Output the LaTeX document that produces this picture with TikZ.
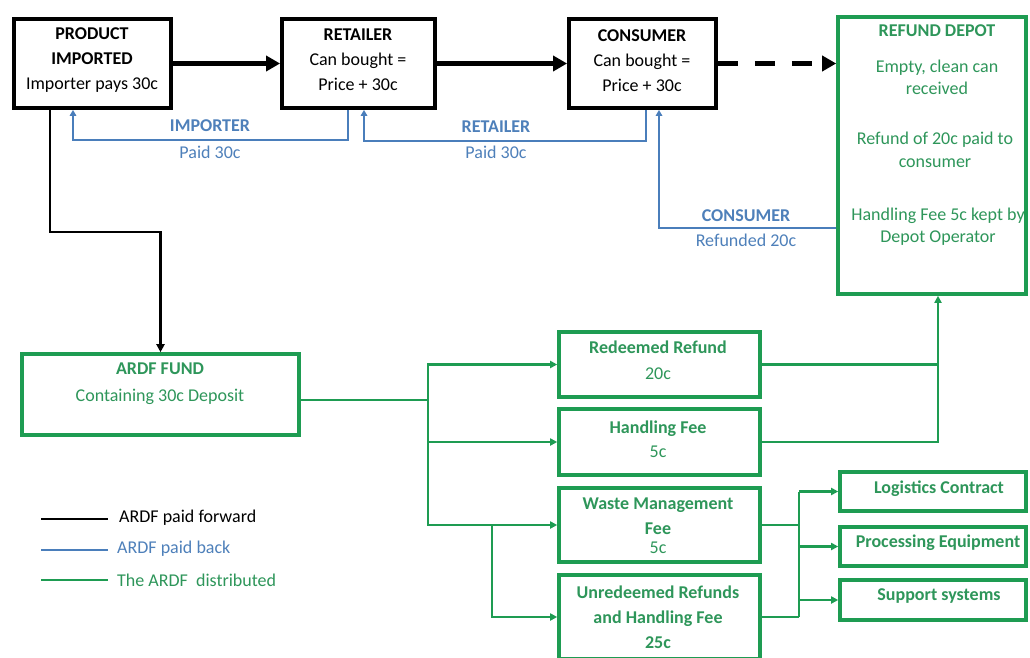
\documentclass[tikz,border=0pt]{standalone}
\usepackage{fontspec}
\setmainfont{Carlito}
\usetikzlibrary{arrows.meta,calc}
\definecolor{gbox}{RGB}{30,156,82}
\definecolor{gtxt}{RGB}{46,150,90}
\definecolor{bln}{RGB}{74,126,187}
\definecolor{btxt}{RGB}{78,128,186}
\begin{document}
\begin{tikzpicture}[x=1pt,y=-1pt,
  font=\fontsize{18}{25}\selectfont,
  bbox/.style={draw=black,line width=3.8pt,inner sep=0pt,rectangle},
  gbx/.style={draw=gbox,line width=3.6pt,inner sep=0pt,rectangle},
  txt/.style={align=center,inner sep=0pt},
  gt/.style={txt,text=gtxt},
  bt/.style={txt,text=btxt},
  fwd/.style={line width=4.5pt,-{Triangle[length=14pt,width=15pt]}},
  back/.style={draw=bln,line width=2.2pt,-{Triangle[length=6pt,width=6.5pt]}},
  dist/.style={draw=gbox,line width=2.7pt},
  distarr/.style={dist,-{Triangle[length=7pt,width=7pt]}},
]
\fill[white] (0,0) rectangle (1030,658);
\useasboundingbox (0,0) rectangle (1030,658);

% top row boxes
\node[bbox,minimum width=157pt,minimum height=89pt] (prod) at (92.5,63.5) {};
\node[bbox,minimum width=153pt,minimum height=89pt] (ret) at (358.5,63.5) {};
\node[bbox,minimum width=147pt,minimum height=89pt] (cons) at (642.5,63.5) {};
\node[gbx,minimum width=188pt,minimum height=277pt] (depot) at (932,155.5) {};

\node[txt] (prodT) at (92,60) {\textbf{PRODUCT}\\\textbf{IMPORTED}\\Importer pays 30c};
\node[txt] (retT) at (358,60) {\textbf{RETAILER}\\Can bought =\\Price + 30c};
\node[txt] (consT) at (642,60.5) {\textbf{CONSUMER}\\Can bought =\\Price + 30c};

\node[gt] (depT1) at (937,31) {\textbf{REFUND DEPOT}};
\node[gt,font=\fontsize{18}{22}\selectfont] (depT2) at (937,77) {Empty, clean can\\received};
\node[gt,font=\fontsize{18}{23}\selectfont] (depT3) at (935,149.5) {Refund of 20c paid to\\consumer};
\node[gt,font=\fontsize{18}{22}\selectfont] (depT4) at (938,227) {Handling Fee 5c kept by\\Depot Operator};

% forward arrows
\draw[fwd] (prod.east) -- (ret.west);
\draw[fwd] (ret.east) -- (cons.west);
\draw[fwd,dash pattern=on 20pt off 17pt] (cons.east) -- (cons.east -| depot.west);

% paid back (blue)
\draw[back] ([xshift=-10.5pt]ret.south) -- ++(0,30) -| ([xshift=-19.5pt]prod.south);
\draw[back] ([xshift=3.5pt]cons.south) -- ++(0,31) -| ([xshift=5.5pt]ret.south);
\draw[back] (depot.west |- 0,228) -| ([xshift=16.5pt]cons.south);

\node[bt] (bl1) at (210,126) {\textbf{IMPORTER}};
\node[bt] (bl1b) at (210,152) {Paid 30c};
\node[bt] (bl2) at (496,127) {\textbf{RETAILER}};
\node[bt] (bl2b) at (496,152) {Paid 30c};
\node[bt] (bl3) at (746,216) {\textbf{CONSUMER}};
\node[bt] (bl3b) at (746,240) {Refunded 20c};

% ARDF fund
\node[gbx,minimum width=277pt,minimum height=81pt] (ardf) at (160.5,394.5) {};
\node[gt,font=\fontsize{18}{27}\selectfont] (ardfT) at (160,383.5) {\textbf{ARDF FUND}\\Containing 30c Deposit};
\draw[line width=2.8pt,-{Triangle[length=8pt,width=8pt]}] ([xshift=-42.5pt]prod.south) -- ++(0,122) -| (ardf.north);

% distribution boxes
\node[gbx,minimum width=201pt,minimum height=65pt] (red) at (659.5,364.5) {};
\node[gbx,minimum width=201pt,minimum height=66pt] (hand) at (659.5,442) {};
\node[gbx,minimum width=201pt,minimum height=74pt] (waste) at (659.5,525) {};
\node[gbx,minimum width=201pt,minimum height=84pt] (unred) at (659.5,617) {};

\node[gt,font=\fontsize{18}{26}\selectfont] (redT) at (658,360) {\textbf{Redeemed Refund}\\20c};
\node[gt,font=\fontsize{18}{24}\selectfont] (handT) at (658,439) {\textbf{Handling Fee}\\5c};
\node[gt] (wasteT) at (658,526) {\textbf{Waste Management}\\\textbf{Fee}\\[-6pt]5c};
\node[gt] (unredT) at (658,617) {\textbf{Unredeemed Refunds}\\\textbf{and Handling Fee}\\\textbf{25c}};

\node[gbx,minimum width=186pt,minimum height=39pt] (logi) at (933,491.5) {};
\node[gbx,minimum width=186pt,minimum height=39pt] (proc) at (933,546.5) {};
\node[gbx,minimum width=186pt,minimum height=40pt] (supp) at (933,600) {};
\node[gt] (logiT) at (939,489) {\textbf{Logistics Contract}};
\node[gt] (procT) at (938,543) {\textbf{Processing Equipment}};
\node[gt] (suppT) at (939,596) {\textbf{Support systems}};

% green connectors
\coordinate (j1) at (428,400);
\coordinate (j2) at (492,525);
\coordinate (j3) at (799,525);
\coordinate (j4) at ([xshift=6pt]depot.south);
\draw[dist] (ardf.east |- j1) -- (j1);
\draw[distarr] (j1) |- (red.west);
\draw[distarr] (j1) |- (hand.west);
\draw[distarr] (j1) |- (waste.west);
\draw[distarr] (j2) |- (unred.west);
\draw[dist] (red.east) -- (red.east -| j4);
\draw[distarr] (hand.east) -| (j4);
\draw[dist] (waste.east) -- (waste.east -| j3);
\draw[dist] (unred.east) -- (unred.east -| j3);
\draw[dist] (j3 |- logi.west) -- (j3 |- unred.east);
\draw[distarr] (j3 |- logi.west) -- (logi.west);
\draw[distarr] (j3 |- proc.west) -- (proc.west);
\draw[distarr] (j3 |- supp.west) -- (supp.west);

% legend
\coordinate (lg1a) at (41,519); \coordinate (lg1b) at (108,519);
\coordinate (lg2a) at (41,550); \coordinate (lg2b) at (108,550);
\coordinate (lg3a) at (41,580); \coordinate (lg3b) at (108,580);
\draw[line width=2.2pt,black] (lg1a) -- (lg1b);
\draw[line width=2.2pt,bln] (lg2a) -- (lg2b);
\draw[line width=2.6pt,gbox] (lg3a) -- (lg3b);
\node[txt,anchor=west] (lgT1) at (119,518) {ARDF paid forward};
\node[bt,anchor=west] (lgT2) at (117,549) {ARDF paid back};
\node[gt,anchor=west] (lgT3) at (117,580) {The ARDF\ \ distributed};
\end{tikzpicture}
\end{document}
